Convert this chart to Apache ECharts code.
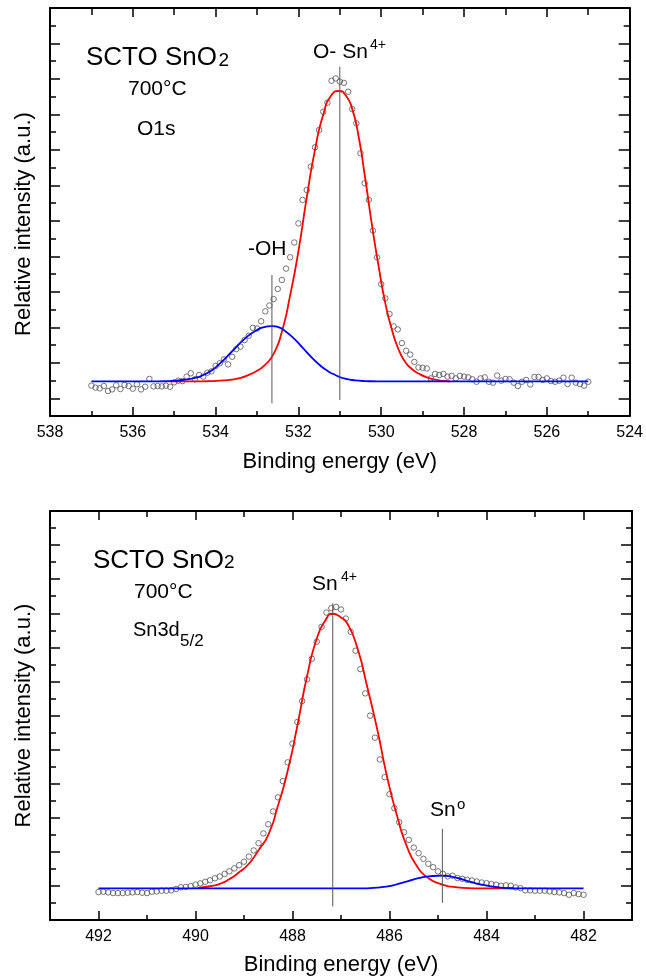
<!DOCTYPE html>
<html><head><meta charset="utf-8">
<script src="https://cdn.jsdelivr.net/npm/echarts@6/dist/echarts.min.js"></script>
<style>html,body{margin:0;padding:0;background:#fff}#c{width:646px;height:980px}</style>
</head><body><div id="c"></div>
<script>
const FONT = '"Liberation Sans", Arial, Helvetica, sans-serif';

// ---------- Top panel: O1s ----------
const o1sEnergy = [
537.0,536.9,536.8,536.7,536.6,536.5,536.4,536.3,536.2,536.1,
536.0,535.9,535.8,535.7,535.6,535.5,535.4,535.3,535.2,535.1,
535.0,534.9,534.8,534.7,534.6,534.5,534.4,534.3,534.2,534.1,
534.0,533.9,533.8,533.7,533.6,533.5,533.4,533.3,533.2,533.1,
533.0,532.9,532.8,532.7,532.6,532.5,532.4,532.3,532.2,532.1,
532.0,531.9,531.8,531.7,531.6,531.5,531.4,531.3,531.2,531.1,
531.0,530.9,530.8,530.7,530.6,530.5,530.4,530.3,530.2,530.1,
530.0,529.9,529.8,529.7,529.6,529.5,529.4,529.3,529.2,529.1,
529.0,528.9,528.8,528.7,528.6,528.5,528.4,528.3,528.2,528.1,
528.0,527.9,527.8,527.7,527.6,527.5,527.4,527.3,527.2,527.1,
527.0,526.9,526.8,526.7,526.6,526.5,526.4,526.3,526.2,526.1,
526.0,525.9,525.8,525.7,525.6,525.5,525.4,525.3,525.2,525.1,
525.0];
const o1sIntensity = [
1.71,1.60,1.56,1.69,1.41,1.50,1.73,1.52,1.75,1.69,
1.54,1.79,1.50,1.65,2.09,1.67,1.69,1.67,1.71,1.65,
1.90,1.99,1.97,2.22,2.41,2.07,2.31,2.22,2.44,2.52,
2.82,2.97,3.19,2.91,3.34,3.77,3.91,4.28,4.52,4.97,
4.93,5.34,5.90,6.23,6.59,7.16,7.67,8.31,8.95,9.78,
10.86,12.18,12.74,14.05,15.15,16.12,17.15,17.66,18.90,19.03,
18.85,18.78,18.28,17.30,16.50,14.81,13.12,12.18,10.45,8.94,
7.43,6.63,5.75,5.05,4.88,4.11,3.68,3.46,3.05,2.74,
2.72,2.68,2.12,2.37,2.31,2.37,2.22,2.26,2.12,2.26,
2.22,2.18,2.07,1.93,2.12,2.18,1.93,1.88,2.28,1.99,
2.09,2.07,1.88,1.69,1.93,2.03,1.78,2.20,2.20,2.03,
2.12,1.97,1.93,1.99,2.16,1.80,2.16,1.88,1.80,1.71,
1.93];
const o1sSnFitE = [535.1,534.6,534.2,533.9,533.6,533.4,533.2,533.0,532.8,532.6,
532.4,532.2,532.0,531.8,531.6,531.4,531.2,531.02,530.85,530.7,
530.55,530.4,530.22,530.06,529.9,529.74,529.58,529.42,529.26,529.1,
528.9,528.7,528.5,528.34];
const o1sSnFitY = [1.95,1.95,1.96,1.99,2.05,2.15,2.32,2.55,2.9,3.5,
4.75,6.8,9.3,12.3,15.0,17.0,18.1,18.32,18.05,17.3,
15.8,13.6,10.7,8.4,6.35,4.85,3.75,3.05,2.65,2.40,
2.18,2.05,1.98,1.95];
const o1sOHFitE = [537.0,535.4,535.1,534.8,534.5,534.2,533.9,533.6,533.3,533.0,
532.8,532.63,532.45,532.3,532.1,531.9,531.7,531.5,531.3,531.1,
530.9,530.7,530.4,530.0,525.0];
const o1sOHFitY = [1.95,1.95,1.97,2.03,2.15,2.42,2.95,3.65,4.35,4.85,
5.02,5.07,4.98,4.75,4.35,3.85,3.35,2.9,2.55,2.3,
2.12,2.03,1.97,1.95,1.95];
const o1sPeakE = [532.64, 531.0];
const o1sPeakTop = [7.95, 19.69];
const o1sPeakBottom = [0.72, 0.90];
const o1sXMajor = [524,526,528,530,532,534,536,538];
const o1sXMinor = [525,527,529,531,533,535,537];
const o1sYMajor = [1,3,5,7,9,11,13,15,17,19,21];
const o1sYMinor = [2,4,6,8,10,12,14,16,18,20,22];

// ---------- Bottom panel: Sn3d5/2 ----------
const snEnergy = [
492.0,491.9,491.8,491.7,491.6,491.5,491.4,491.3,491.2,491.1,
491.0,490.9,490.8,490.7,490.6,490.5,490.4,490.3,490.2,490.1,
490.0,489.9,489.8,489.7,489.6,489.5,489.4,489.3,489.2,489.1,
489.0,488.9,488.8,488.7,488.6,488.5,488.4,488.3,488.2,488.1,
488.0,487.9,487.8,487.7,487.6,487.5,487.4,487.3,487.2,487.1,
487.0,486.9,486.8,486.7,486.6,486.5,486.4,486.3,486.2,486.1,
486.0,485.9,485.8,485.7,485.6,485.5,485.4,485.3,485.2,485.1,
485.0,484.9,484.8,484.7,484.6,484.5,484.4,484.3,484.2,484.1,
484.0,483.9,483.8,483.7,483.6,483.5,483.4,483.3,483.2,483.1,
483.0,482.9,482.8,482.7,482.6,482.5,482.4,482.3,482.2,482.1,
482.0];
const snIntensity = [
1.64,1.66,1.62,1.58,1.58,1.58,1.60,1.62,1.64,1.60,
1.58,1.66,1.68,1.72,1.72,1.74,1.82,1.92,1.94,1.99,
2.08,2.15,2.24,2.33,2.45,2.55,2.70,2.86,3.03,3.22,
3.42,3.72,4.08,4.51,5.08,5.62,6.37,7.20,8.15,9.25,
10.35,11.62,12.85,14.12,15.33,16.33,17.20,18.04,18.30,18.37,
18.22,17.69,16.91,15.80,14.72,13.30,11.99,10.70,9.42,8.38,
7.38,6.56,5.74,5.15,4.70,4.25,3.92,3.59,3.30,3.10,
2.85,2.71,2.56,2.60,2.46,2.42,2.36,2.32,2.26,2.20,
2.16,2.11,2.07,2.01,2.03,2.01,1.91,1.87,1.74,1.74,
1.72,1.72,1.72,1.68,1.64,1.62,1.58,1.48,1.58,1.52,
1.48];
const snSn4FitE = [489.95,489.7,489.5,489.3,489.1,488.9,488.7,488.5,488.3,488.1,
487.9,487.7,487.5,487.32,487.17,487.0,486.87,486.67,486.46,486.25,
486.05,485.84,485.64,485.43,485.22,484.95,484.6,484.2,483.45];
const snSn4FitY = [1.88,1.98,2.12,2.40,2.80,3.30,4.10,5.00,6.70,8.75,
11.4,14.3,16.5,17.59,17.97,17.75,17.40,16.03,13.69,11.15,
8.41,6.07,4.31,3.14,2.50,2.12,1.92,1.86,1.85];
const snSn0FitE = [492.0,486.6,486.4,486.2,486.0,485.8,485.6,485.4,485.2,484.92,
484.7,484.5,484.3,484.1,483.9,483.7,483.4,483.1,482.0];
const snSn0FitY = [1.85,1.85,1.87,1.92,1.99,2.13,2.30,2.46,2.56,2.60,
2.53,2.38,2.22,2.08,1.97,1.90,1.86,1.85,1.85];
const snPeakE = [487.17, 484.91];
const snPeakTop = [18.59, 5.35];
const snPeakBottom = [0.80, 1.01];
const snXMajor = [482,484,486,488,490,492];
const snXMinor = [483,485,487,489,491];
const snYMajor = [2,4,6,8,10,12,14,16,18,20,22];
const snYMinor = [1,3,5,7,9,11,13,15,17,19,21,23];

// ---------- helpers ----------
const zip = (a, b) => a.map((v, i) => [v, b[i]]);
const lineStyleAxis = {color: '#000', width: 2};

function xAx(gi, min, max, pos, ticks, len, withLine, extra) {
  return Object.assign({
    type: 'value', gridIndex: gi, min: min, max: max, inverse: true, position: pos,
    axisLine: {show: withLine, onZero: false, lineStyle: lineStyleAxis},
    axisTick: {show: true, inside: true, length: len, customValues: ticks, lineStyle: {color: '#000', width: 1.5}},
    axisLabel: {show: false},
    splitLine: {show: false}
  }, extra || {});
}
function yAx(gi, min, max, pos, ticks, len, withLine, extra) {
  return Object.assign({
    type: 'value', gridIndex: gi, min: min, max: max, position: pos,
    axisLine: {show: withLine, onZero: false, lineStyle: lineStyleAxis},
    axisTick: {show: true, inside: true, length: len, customValues: ticks, lineStyle: {color: '#000', width: 1.5}},
    axisLabel: {show: false},
    splitLine: {show: false}
  }, extra || {});
}
function xLabelExtra(ticks, gap) {
  return {
    axisLabel: {show: true, customValues: ticks, fontSize: 16, color: '#000', fontFamily: FONT, margin: 9},
    name: 'Binding energy (eV)', nameLocation: 'middle', nameGap: gap,
    nameTextStyle: {fontSize: 22, color: '#000', fontFamily: FONT}
  };
}
function yNameExtra(pad) {
  return {
    name: 'Relative intensity (a.u.)', nameLocation: 'middle', nameGap: 15,
    nameTextStyle: {fontSize: 22, color: '#000', fontFamily: FONT, padding: pad}
  };
}

const xAxes = [
  xAx(0, 524, 538, 'bottom', o1sXMajor, 9, true, xLabelExtra(o1sXMajor, 35)),
  xAx(0, 524, 538, 'bottom', o1sXMinor, 5, false),
  xAx(0, 524, 538, 'top', o1sXMajor, 9, true),
  xAx(0, 524, 538, 'top', o1sXMinor, 7, false),
  xAx(1, 481, 493, 'bottom', snXMajor, 9, true, xLabelExtra(snXMajor, 34)),
  xAx(1, 481, 493, 'bottom', snXMinor, 5, false),
  xAx(1, 481, 493, 'top', snXMajor, 9, true),
  xAx(1, 481, 493, 'top', snXMinor, 6, false)
];
const yAxes = [
  yAx(0, 0, 23, 'left', o1sYMajor, 10, true, yNameExtra([0, 24, 0, 0])),
  yAx(0, 0, 23, 'left', o1sYMinor, 6, false),
  yAx(0, 0, 23, 'right', o1sYMajor, 11, true),
  yAx(0, 0, 23, 'right', o1sYMinor, 6, false),
  yAx(1, 0, 24, 'left', snYMajor, 10, true, yNameExtra([0, 0, 0, 0])),
  yAx(1, 0, 24, 'left', snYMinor, 6, false),
  yAx(1, 0, 24, 'right', snYMajor, 11, true),
  yAx(1, 0, 24, 'right', snYMinor, 6, false)
];

function dataSeries(ax, e, y) {
  return {type: 'scatter', xAxisIndex: ax, yAxisIndex: ax, data: zip(e, y), symbol: 'circle', symbolSize: 5.5,
    itemStyle: {color: 'rgba(255,255,255,0)', borderColor: '#555', borderWidth: 1}, z: 2, silent: true};
}
function fitSeries(ax, e, y, color) {
  return {type: 'line', xAxisIndex: ax, yAxisIndex: ax, data: zip(e, y), showSymbol: false, symbol: 'none',
    smooth: 0.6, lineStyle: {color: color, width: 1.8}, z: 3, silent: true};
}
function peakLines(ax, es, tops, bots) {
  return es.map((e, i) => ({type: 'line', xAxisIndex: ax, yAxisIndex: ax, data: [[e, bots[i]], [e, tops[i]]],
    symbol: 'none', lineStyle: {color: '#555', width: 1}, z: 4, silent: true}));
}

const series = [
  dataSeries(0, o1sEnergy, o1sIntensity),
  fitSeries(0, o1sSnFitE, o1sSnFitY, '#ff0000'),
  fitSeries(0, o1sOHFitE, o1sOHFitY, '#0000ff'),
  ...peakLines(0, o1sPeakE, o1sPeakTop, o1sPeakBottom),
  dataSeries(4, snEnergy, snIntensity),
  fitSeries(4, snSn4FitE, snSn4FitY, '#ff0000'),
  fitSeries(4, snSn0FitE, snSn0FitY, '#0000ff'),
  ...peakLines(4, snPeakE, snPeakTop, snPeakBottom)
];

function txt(s, x, y, size) {
  return {type: 'text', x: x, y: y, z: 10, silent: true,
    style: {text: s, fontSize: size, fontFamily: FONT, fill: '#000', verticalAlign: 'middle', align: 'left'}};
}
const graphic = [
  txt('SCTO SnO', 86, 58, 26), txt('2', 218.5, 60.5, 19),
  txt('700°C', 128, 89, 21), txt('O1s', 137, 129, 21),
  txt('O- Sn', 313, 52.5, 21), txt('4+', 370, 45, 14),
  txt('-OH', 248, 249, 21),
  txt('SCTO SnO', 93, 560.5, 26), txt('2', 224, 563, 19),
  txt('700°C', 134, 592, 21),
  txt('Sn3d', 133, 630.5, 20), txt('5/2', 180, 641, 17),
  txt('Sn', 312, 584.5, 21), txt('4+', 341, 577, 14),
  txt('Sn', 430, 810.5, 21), txt('o', 457, 804.5, 15)
];

const chart = echarts.init(document.getElementById('c'), null, {renderer: 'canvas'});
chart.setOption({
  animation: false,
  backgroundColor: '#fff',
  grid: [
    {left: 50, top: 8, width: 582, height: 408},
    {left: 50, top: 511, width: 582, height: 409}
  ],
  xAxis: xAxes,
  yAxis: yAxes,
  series: series,
  graphic: graphic
});
</script></body></html>
